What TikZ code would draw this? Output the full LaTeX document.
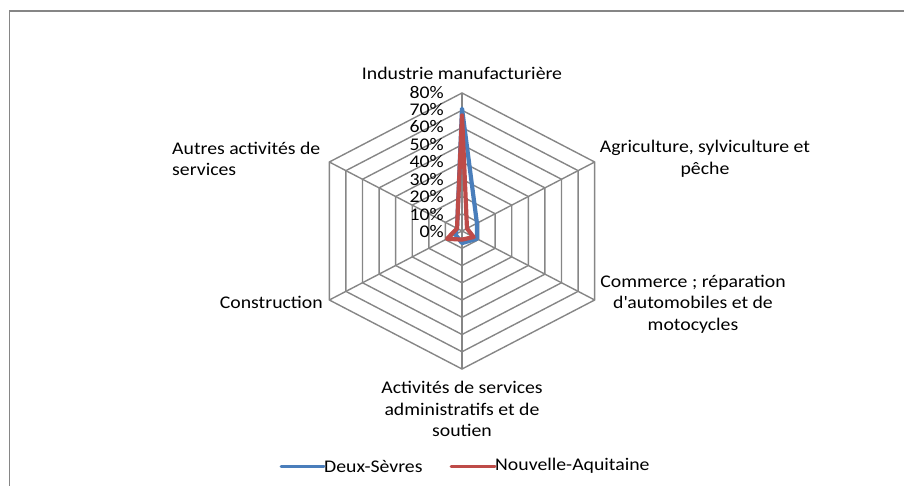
\documentclass[tikz,border=0pt]{standalone}
\usepackage{fontspec}
\setmainfont{Carlito}[FakeStretch=1.11]
\usetikzlibrary{positioning}
\definecolor{gridgray}{RGB}{134,134,134}
\definecolor{deuxblue}{RGB}{74,126,187}
\definecolor{aquired}{RGB}{190,75,72}
\tikzstyle{axislabel}=[inner sep=0pt, align=center, font=\fontsize{17.8}{21.5}\selectfont]
\tikzstyle{ring}=[draw=gridgray, line width=1.4pt]
\tikzstyle{serie}=[line width=4.2pt, line join=round, line cap=round]
\tikzstyle{legline}=[line width=3pt, line cap=round]

\begin{document}
\begin{tikzpicture}[x=1pt,y=-1pt]
    \useasboundingbox (0,0) rectangle (904,486);
    \draw[draw=gridgray, line width=1.5pt](9.5,486) -- (9.5,11) -- (904,11);

    % radar grid, 17.25 per 10%
    \begin{scope}[shift={(462,231)}, yscale=-1, xscale=1.11]
      \coordinate (centre) at (0,0);
      \coordinate (ind) at (90:138);
      \coordinate (agr) at (30:138);
      \coordinate (com) at (-30:138);
      \coordinate (adm) at (-90:138);
      \coordinate (con) at (210:138);
      \coordinate (aut) at (150:138);
      \foreach \r in {17.25,34.5,...,138}
        \draw[ring] (90:\r) -- (30:\r) -- (-30:\r) -- (-90:\r) -- (210:\r) -- (150:\r) -- cycle;
      \foreach \a in {ind,agr,com,adm,con,aut}
        \draw[ring] (centre) -- (\a);

      \draw[serie, deuxblue] (90:{71*1.725}) -- (30:{9*1.725}) -- (-30:{9*1.725})
        -- (-90:{7*1.725}) -- (210:{4*1.725}) -- (150:{3*1.725}) -- cycle;
      \draw[serie, aquired] (90:{67*1.725}) -- (30:{3*1.725}) -- (-30:{7*1.725})
        -- (-90:{5*1.725}) -- (210:{9*1.725}) -- (150:{3*1.725}) -- cycle;
    \end{scope}

    \foreach \k in {0,...,8}{
      \pgfmathtruncatemacro\p{10*\k}
      \node[axislabel, anchor=east](pct\k) at (444,{232-17.5*\k}){\p\%};
    }

    \node[axislabel](indlbl) at (462,73){Industrie manufacturière};
    \node[axislabel](agrlbl) at (705,159){Agriculture, sylviculture et\\pêche};
    \node[axislabel](comlbl) at (693,304){Commerce ; réparation\\d\textquotesingle automobiles et de\\motocycles};
    \node[axislabel](admlbl) at (462,409){Activités de services\\administratifs et de\\soutien};
    \node[axislabel, anchor=east](conlbl) at (323,302){Construction};
    \node[axislabel, anchor=west, align=left](autlbl) at (172,159){Autres activités de\\services};

    \node[axislabel, anchor=west](legdeux) at (324,466){Deux-Sèvres};
    \node[axislabel, anchor=west](legnouv) at (495,466){Nouvelle-Aquitaine};
    \coordinate (legdeuxstart) at (281,466);
    \coordinate (legnouvstart) at (451,466);
    \draw[legline, deuxblue](legdeuxstart) -- (legdeux.west);
    \draw[legline, aquired](legnouvstart) -- (legnouv.west);
  \end{tikzpicture}
\end{document}
